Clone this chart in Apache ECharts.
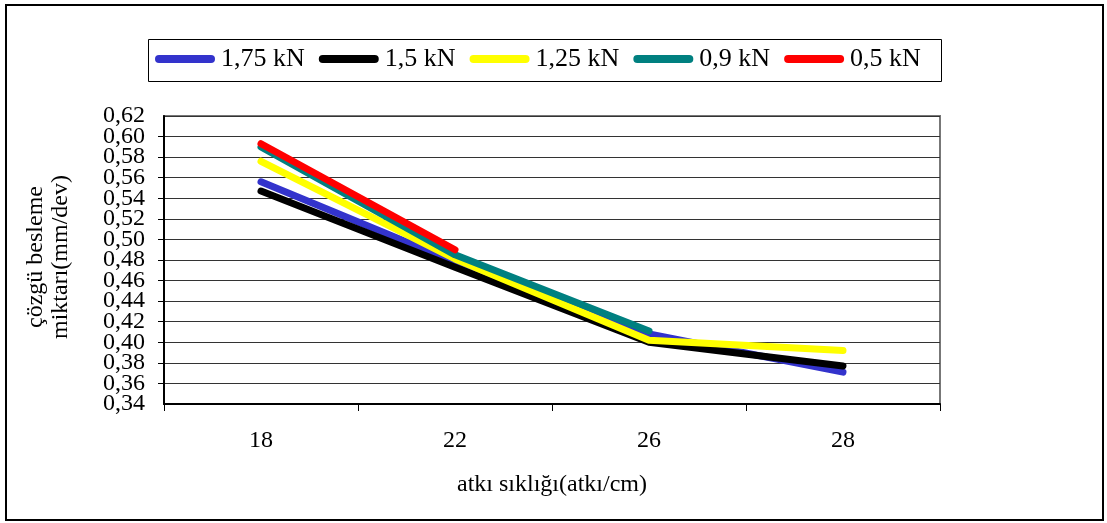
<!DOCTYPE html>
<html>
<head>
<meta charset="utf-8">
<script src="https://cdn.jsdelivr.net/npm/echarts@6/dist/echarts.min.js"></script>
<style>
  html, body { margin: 0; padding: 0; background: #fff; }
  #chart { width: 1107px; height: 523px; }
</style>
</head>
<body>
<div id="chart"></div>
<script>
// Weft density categories (atkı/cm)
const categories = ['18', '22', '26', '28'];

// Warp let-off per series, mm/dev
const names = ['1,75 kN', '1,5 kN', '1,25 kN', '0,9 kN', '0,5 kN'];
const v175 = [0.556, 0.478, 0.408, 0.371];
const v150 = [0.547, 0.473, 0.400, 0.377];
const v125 = [0.576, 0.481, 0.402, 0.392];
const v090 = [0.590, 0.485, 0.411, null];
const v050 = [0.593, 0.490, null, null];

// Value axis range and step
const yMin = 0.34, yMax = 0.62, yStep = 0.02;

const seriesValues = [v175, v150, v125, v090, v050];
const colors = ['#3333CC', '#000000', '#FFFF00', '#008080', '#FF0000'];

const FONT = "'Liberation Serif', 'Times New Roman', serif";
const fmt = v => v.toFixed(2).replace('.', ',');
const isEnd = v => Math.abs(v - yMin) < 1e-9 || Math.abs(v - yMax) < 1e-9;

const chart = echarts.init(document.getElementById('chart'), null, { renderer: 'canvas' });

const capsule = 'path://M4,0 L56,0 A4,4 0 0 1 56,8 L4,8 A4,4 0 0 1 4,0 Z';

const labelBase = { fontFamily: FONT, fontSize: 24, color: '#000', margin: 19, hideOverlap: false };

chart.setOption({
  animation: false,
  backgroundColor: '#fff',
  color: colors,
  grid: { left: 164, right: 167, top: 116, bottom: 119, show: true, borderColor: '#777', borderWidth: 2, backgroundColor: '#fff' },
  legend: {
    left: 150, top: 41,
    itemWidth: 62, itemHeight: 8, itemGap: 14,
    icon: capsule,
    textStyle: { fontFamily: FONT, fontSize: 26, color: '#000' },
    data: names
  },
  graphic: [
    { type: 'rect', shape: { x: 6, y: 5, width: 1097, height: 515 }, style: { fill: null, stroke: '#000', lineWidth: 2 }, z: -1 },
    { type: 'rect', shape: { x: 148.5, y: 39.5, width: 793, height: 42 }, style: { fill: null, stroke: '#000', lineWidth: 1 }, z: 0 },
    {
      type: 'text', x: 48, y: 257, rotation: Math.PI / 2,
      style: { text: 'çözgü besleme\nmiktarı(mm/dev)', font: '24px ' + FONT, fill: '#000', align: 'center', verticalAlign: 'middle', lineHeight: 25 }
    }
  ],
  xAxis: {
    type: 'category',
    data: categories,
    boundaryGap: true,
    name: 'atkı sıklığı(atkı/cm)',
    nameLocation: 'middle',
    nameGap: 69,
    nameTextStyle: { fontFamily: FONT, fontSize: 24, color: '#000' },
    axisLine: { lineStyle: { color: '#000', width: 2 } },
    axisTick: { show: true, length: 7, lineStyle: { color: '#000', width: 1 } },
    axisLabel: { fontFamily: FONT, fontSize: 24, color: '#000', margin: 25 },
    splitLine: { show: false }
  },
  yAxis: [
    {
      // main value axis: inner tick labels, grid lines, ticks
      type: 'value',
      min: yMin, max: yMax, interval: yStep,
      axisLine: { show: true, lineStyle: { color: '#000', width: 2 } },
      axisTick: { show: true, length: 6, lineStyle: { color: '#000', width: 1 } },
      axisLabel: Object.assign({}, labelBase, {
        showMinLabel: false, showMaxLabel: false,
        formatter: fmt
      }),
      splitLine: { show: true, lineStyle: { color: '#333', width: 1 } }
    },
    {
      // end labels of the same scale
      type: 'value', position: 'left', offset: 0,
      min: yMin, max: yMax, interval: yStep,
      axisLine: { show: false },
      axisTick: { show: false },
      splitLine: { show: false },
      axisLabel: Object.assign({}, labelBase, {
        showMinLabel: true, showMaxLabel: true,
        formatter: v => (isEnd(v) ? fmt(v) : '')
      })
    }
  ],
  series: seriesValues.map((vals, i) => ({
    name: names[i],
    type: 'line',
    yAxisIndex: 0,
    data: vals,
    symbol: 'none',
    connectNulls: false,
    lineStyle: { color: colors[i], width: 7, cap: 'round', join: 'round' },
    itemStyle: { color: colors[i] }
  }))
});
</script>
</body>
</html>
